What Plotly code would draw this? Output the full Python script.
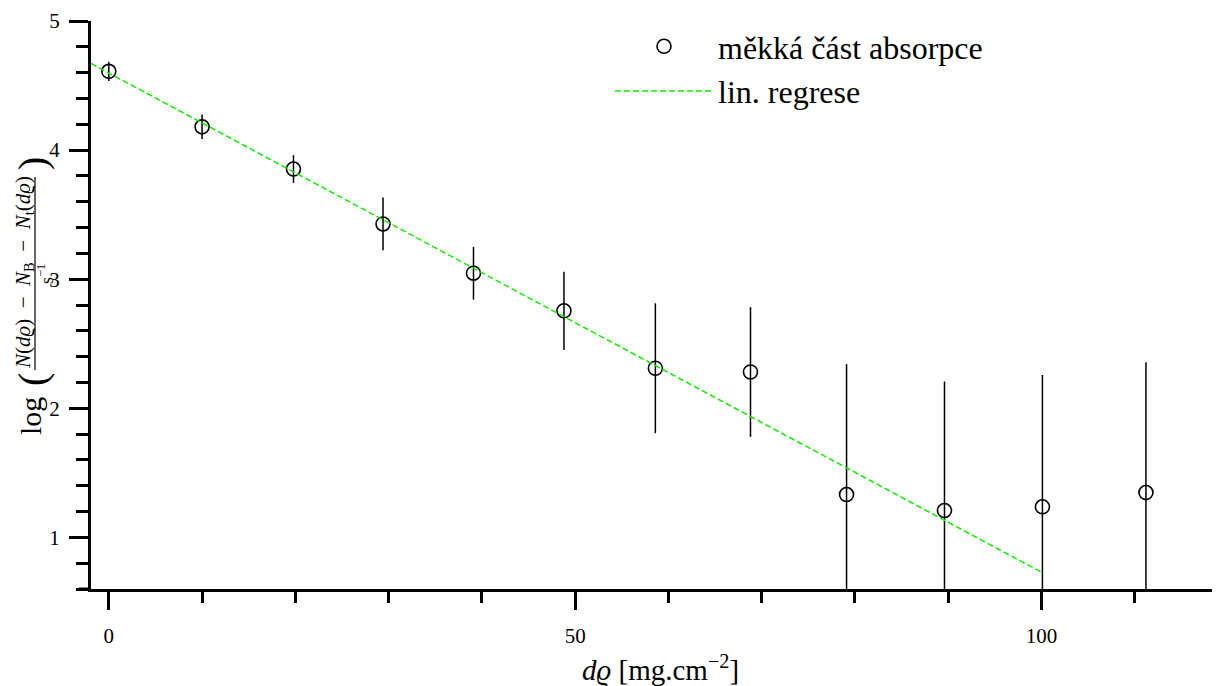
import plotly.graph_objects as go

# ---- data ----
thickness = [0.0, 10.0, 19.8, 29.4, 39.1, 48.8, 58.6, 68.8, 79.1, 89.6, 100.1, 111.2]
log_rate = [4.61, 4.18, 3.853, 3.428, 3.046, 2.755, 2.31, 2.281, 1.332, 1.208, 1.237, 1.347]
log_rate_err = [0.075, 0.095, 0.108, 0.204, 0.204, 0.303, 0.503, 0.503, 1.01, 1.0, 1.02, 1.01]
reg_x = [-1.91, 100.0]
reg_y = [4.671, 0.730]

series_names = ["měkká část absorpce", "lin. regrese"]
x_major_ticks = [0, 50, 100]
y_major_ticks = [1, 2, 3, 4, 5]

FONT = "Liberation Serif"
# the page body has an 8px margin; compensate so the plot area lands at screen px 91..1220 x 21..589
OFF = 8
W, H = 1212, 678
L, R, T, B = 83, 0, 13, 97
PW, PH = W - L - R, H - T - B
PX0, PY1 = L + OFF, H - B + OFF  # screen px of plot-area left / bottom


def px2paper(px, py):
    return (px - PX0) / PW, (PY1 - py) / PH


fig = go.Figure()

fig.add_trace(go.Scatter(
    x=thickness, y=log_rate, mode="markers", name=series_names[0],
    marker=dict(symbol="circle-open", size=14, color="black", line=dict(width=1.6, color="black")),
    error_y=dict(type="data", array=log_rate_err, visible=True, color="black", thickness=1.5, width=0),
))

fig.add_trace(go.Scatter(
    x=reg_x, y=reg_y, mode="lines", name=series_names[1],
    line=dict(color="#11ee00", width=1.5, dash="6px,3px"),
))

axis_common = dict(
    showgrid=False, zeroline=False, showline=True, linecolor="black", linewidth=3,
    ticks="outside", tickcolor="black", tickwidth=2.5,
    tickfont=dict(family=FONT, size=21, color="black"),
)

fig.update_xaxes(
    range=[-1.91, 119.14], tickvals=x_major_ticks, ticklen=18,
    ticklabelstandoff=8,
    minor=dict(dtick=10, tick0=0, ticklen=11, tickwidth=2.5, tickcolor="black", ticks="outside"),
    **axis_common,
)
fig.update_yaxes(
    range=[0.6, 5.0], tickvals=y_major_ticks, ticklen=19,
    ticklabelstandoff=5,
    minor=dict(dtick=0.2, tick0=0, ticklen=12, tickwidth=2.5, tickcolor="black", ticks="outside"),
    **axis_common,
)

ann = []


def add_text(text, px, py, size, angle=-90):
    xp, yp = px2paper(px, py)
    ann.append(dict(text=text, x=xp, y=yp, xref="paper", yref="paper", showarrow=False,
                    textangle=angle, xanchor="center", yanchor="middle",
                    font=dict(family=FONT, size=size, color="black")))


# x-axis title
add_text("<i>dϱ</i> [mg.cm<sup>−2</sup>]", 660, 668, 29, angle=0)

# y-axis title built from rotated pieces (fraction)
add_text("log", 30, 416, 30)
add_text("(", 32, 380, 40)
add_text(")", 32, 164, 40)
add_text("<i>N</i>(<i>dϱ</i>)\u2002−\u2002<i>N</i><sub>B</sub>\u2002−\u2002<i>N</i><sub>t</sub>(<i>dϱ</i>)",
         24, 273, 21)
add_text("s<sup>−1</sup>", 45, 274, 18)

x0p, y0p = px2paper(35, 370)
x1p, y1p = px2paper(35, 177)
shapes = [
    dict(type="line", xref="paper", yref="paper", x0=x0p, x1=x1p, y0=y0p, y1=y1p,
         line=dict(color="black", width=1.2)),
    dict(type="line", xref="paper", yref="paper", x0=px2paper(79, 0)[0], x1=0, y0=0, y1=0,
         line=dict(color="black", width=3)),
]

lx, ly = px2paper(610, 19)
fig.update_layout(
    width=W, height=H,
    margin=dict(l=L, r=R, t=T, b=B, autoexpand=False),
    paper_bgcolor="white", plot_bgcolor="white",
    font=dict(family=FONT, color="black"),
    showlegend=True,
    legend=dict(x=lx, y=ly, xanchor="left", yanchor="top", bgcolor="rgba(0,0,0,0)",
                font=dict(family=FONT, size=32, color="black"), itemwidth=98,
                tracegroupgap=0),
    annotations=ann, shapes=shapes,
)

fig.write_html("out.html")
